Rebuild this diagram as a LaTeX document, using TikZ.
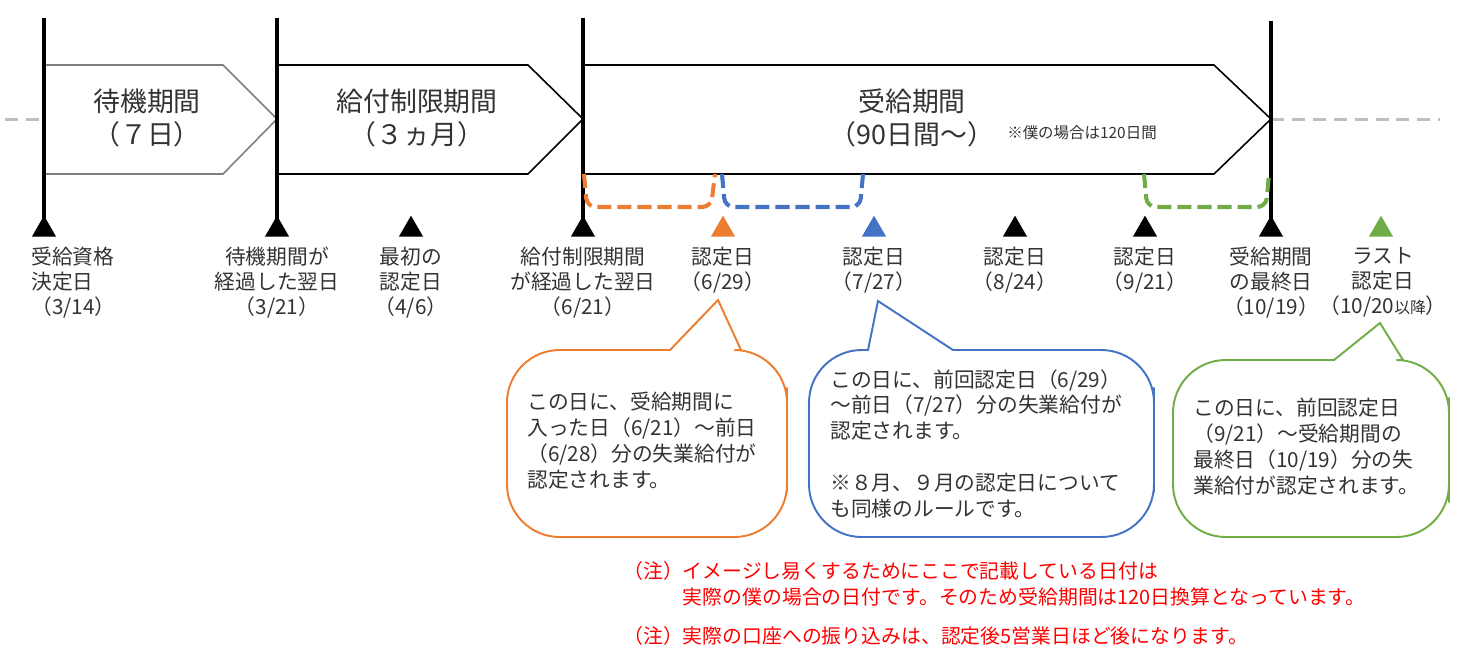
\documentclass[tikz,border=0pt]{standalone}
\usepackage{fontspec}
\setmainfont{Noto Sans CJK JP}
\usepackage{tikz}
\usetikzlibrary{
    calc,
    positioning,
    shapes.geometric
}
\definecolor{txt}{HTML}{333333}
\definecolor{ofOrange}{HTML}{ED7D31}
\definecolor{ofBlue}{HTML}{4472C4}
\definecolor{ofGreen}{HTML}{70AD47}
\definecolor{ofGray}{HTML}{BFBFBF}
\definecolor{boxGray}{HTML}{7F7F7F}
\tikzset{
    tick/.style={line width=2.6pt},
    daytri/.style={regular polygon, regular polygon sides=3, fill=#1,
        inner sep=0pt, minimum size=0.56cm, anchor=south},
    daytri/.default=black,
    period/.style={draw, line width=0.9pt, fill=white},
    ttl/.style={font=\fontsize{15.3}{18.7}\selectfont, align=center, text=txt, inner sep=0pt},
    lbl/.style={font=\fontsize{11.8}{14.2}\selectfont, align=center, text=txt,
        anchor=north, inner sep=0pt},
    spanline/.style={line width=2.3pt, dash pattern=on 8pt off 3.4pt, rounded corners=5},
    callout/.style={line width=1.1pt, fill=white},
    ctext/.style={font=\fontsize{11.8}{14.7}\selectfont, align=left, text=txt,
        anchor=north west, inner sep=0pt},
    note/.style={font=\fontsize{11.3}{14.7}\selectfont, align=left, text=red,
        anchor=north west, inner sep=0pt}
}

\begin{document}
\begin{tikzpicture}[x=0.02cm,y=-0.02cm]
    \useasboundingbox (0,0) rectangle (1458,664);
    % dashed time axis
    \draw[ofGray, line width=1.7pt, dash pattern=on 7.4pt off 4.5pt] (5,119) -- (44,119);
    \draw[ofGray, line width=1.7pt, dash pattern=on 7.4pt off 4.5pt] (1271,119) -- (1440,119);
    % periods
    \draw[period, draw=boxGray] (44,65) -- (223,65) -- (277,119) -- (223,174) -- (44,174) -- cycle;
    \draw[period] (277,65) -- (528,65) -- (583,119) -- (528,174) -- (277,174) -- cycle;
    \draw[period] (583,65) -- (1214,65) -- (1271,119) -- (1214,174) -- (583,174) -- cycle;
    \node[ttl] (wait) at (147,118) {待機期間\\（７日）};
    \node[ttl] (limit) at (417,118) {給付制限期間\\（３ヵ月）};
    \node[ttl] (benefit) at (912,118) {受給期間\\（90日間～）};
    \node[font=\fontsize{8.8}{10}\selectfont, text=txt, inner sep=0pt] (mycase) at (1082,133) {※僕の場合は120日間};
    % ticks
    \foreach \x/\t in {44/18,277/18,583/18,1271/21}
        \draw[tick] (\x,\t) -- (\x,230);
    % spans up to each day
    \draw[spanline, ofOrange] (584,174) -- (587,207) -- (711,207) -- (715,174);
    \draw[spanline, ofBlue] (722,174) -- (725,207) -- (860,207) -- (863,174);
    \draw[spanline, ofGreen] (1144,174) -- (1147,207) -- (1266,207) -- (1269,174);
    % days
    \foreach \x [count=\i] in {44,277,411,583,1015,1145,1271}
        \node[daytri] (t\i) at (\x,237) {};
    \node[daytri=ofOrange] (tO) at (723,237) {};
    \node[daytri=ofBlue] (tB) at (874,237) {};
    \node[daytri=ofGreen] (tG) at (1381,237) {};
    % day labels
    \node[lbl, align=left, anchor=north west] (d1) at (31,247) {受給資格\\決定日\\（3/14）};
    \node[lbl] (d2) at (277,247) {待機期間が\\経過した翌日\\（3/21）};
    \node[lbl] (d3) at (411,247) {最初の\\認定日\\（4/6）};
    \node[lbl] (d4) at (583,247) {給付制限期間\\が経過した翌日\\（6/21）};
    \node[lbl] (d5) at (723,247) {認定日\\（6/29）};
    \node[lbl] (d6) at (874,247) {認定日\\（7/27）};
    \node[lbl] (d7) at (1015,247) {認定日\\（8/24）};
    \node[lbl] (d8) at (1145,247) {認定日\\（9/21）};
    \node[lbl] (d9) at (1271,247) {受給期間\\の最終日\\（10/19）};
    \node[lbl] (d10) at (1383,247) {ラスト\\認定日\\（10/20{\fontsize{9}{10}\selectfont 以降}）};
    % callouts
    \draw[callout, draw=ofOrange] (787,440) [rounded corners=30] -- (787,537) -- (507,537) -- (507,350)
        [sharp corners] -- (670,350) -- (718,300) -- (741,350) [rounded corners=30] -- (787,350) -- cycle;
    \node[ctext] (c1) at (527,392) {この日に、受給期間に\\入った日（6/21）～前日\\（6/28）分の失業給付が\\認定されます。};
    \draw[callout, draw=ofBlue] (1154,440) [rounded corners=30] -- (1154,537) -- (809,537) -- (809,350)
        [sharp corners] -- (868,350) -- (878,301) -- (953,350) [rounded corners=30] -- (1154,350) -- cycle;
    \node[ctext] (c2) at (830,369) {この日に、前回認定日（6/29）\\～前日（7/27）分の失業給付が\\認定されます。\\[14.7pt]※８月、９月の認定日について\\も同様のルールです。};
    \draw[callout, draw=ofGreen] (1449,450) [rounded corners=30] -- (1449,537) -- (1173,537) -- (1173,360)
        [sharp corners] -- (1334,360) -- (1380,323) -- (1403,360) [rounded corners=30] -- (1449,360) -- cycle;
    \node[ctext] (c3) at (1193,398) {この日に、前回認定日\\（9/21）～受給期間の\\最終日（10/19）分の失\\業給付が認定されます。};
    % notes
    \node[note] (n1) at (623,561) {（注）イメージし易くするためにここで記載している日付は\\\hspace*{3em}実際の僕の場合の日付です。そのため受給期間は120日換算となっています。};
    \node[note] (n2) at (623,626) {（注）実際の口座への振り込みは、認定後5営業日ほど後になります。};
\end{tikzpicture}
\end{document}
